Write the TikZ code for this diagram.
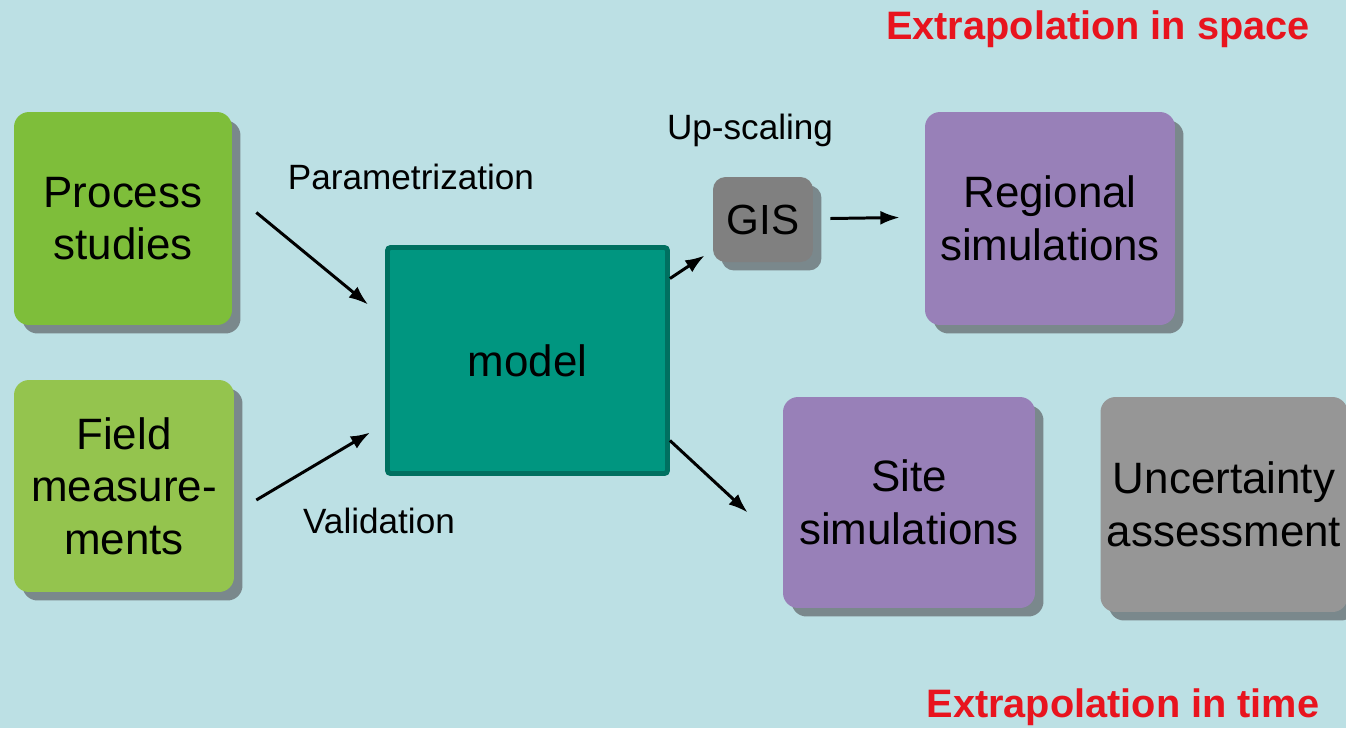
\documentclass[tikz,border=0pt]{standalone}
\usepackage{fontspec}
\setmainfont{Liberation Sans}
\usetikzlibrary{arrows.meta,shadows,calc}
\definecolor{bgc}{RGB}{188,224,228}
\definecolor{shadc}{RGB}{122,136,140}
\definecolor{greenA}{RGB}{126,190,58}
\definecolor{greenB}{RGB}{148,196,78}
\definecolor{tealA}{RGB}{0,150,128}
\definecolor{tealB}{RGB}{0,112,96}
\definecolor{purp}{RGB}{152,128,184}
\definecolor{grayA}{RGB}{128,128,128}
\definecolor{grayB}{RGB}{150,150,150}
\definecolor{redt}{RGB}{232,20,30}
\tikzset{
  box/.style={rounded corners=0.3cm, align=center, inner sep=0pt,
    font=\fontsize{25}{30}\selectfont,
    drop shadow={shadow xshift=0.17cm, shadow yshift=-0.17cm, opacity=1, fill=shadc}},
  lbl/.style={font=\fontsize{20}{24}\selectfont, inner sep=0pt},
  ttl/.style={font=\fontsize{22.6}{26}\selectfont\bfseries, text=redt, inner sep=0pt},
  arr/.style={line width=1.7pt, -{Latex[length=11pt,width=8pt]}}
}
\begin{document}
\begin{tikzpicture}[x=0.02cm,y=-0.02cm]
\fill[bgc] (0,0) rectangle (1346,728);
\useasboundingbox (0,0) rectangle (1346,728);

\node[box, fill=greenA, minimum width=4.36cm, minimum height=4.26cm] (ps) at (123,218.5) {Process\\studies};
\node[box, fill=greenB, minimum width=4.4cm, minimum height=4.24cm] (fm) at (124,486) {Field\\measure-\\ments};
\node[draw=tealB, line width=2.8pt, fill=tealA, rounded corners=0.06cm, minimum width=5.6cm, minimum height=4.52cm, inner sep=0pt, font=\fontsize{25}{30}\selectfont] (model) at (527.5,360.5) {model};
\node[box, fill=grayA, rounded corners=0.25cm, minimum width=2.0cm, minimum height=1.7cm, font=\fontsize{24}{30}\selectfont] (gis) at (763,219.5) {GIS};
\node[box, fill=purp, minimum width=5.0cm, minimum height=4.26cm] (reg) at (1050,218.5) {Regional\\simulations};
\node[box, fill=purp, minimum width=5.04cm, minimum height=4.22cm] (site) at (909,502.5) {Site\\simulations};
\node[box, fill=grayB, minimum width=4.94cm, minimum height=4.3cm] (unc) at (1224,504.5) {Uncertainty\\assessment};

\node[lbl] (lpar) at (411,177) {Parametrization};
\node[lbl] (lup) at (750,130) {Up-scaling};
\node[lbl] (lval) at (379,521) {Validation};
\node[ttl] (tsp) at (1098,29) {Extrapolation in space};
\node[ttl] (ttm) at (1123,707) {Extrapolation in time};

\draw[arr] ($(ps.east)+(24,-6)$) -- ($(model.west)+(-17,-56)$);
\draw[arr] ($(fm.east)+(22,14)$) -- ($(model.west)+(-15,72)$);
\draw[arr] ($(model.east)+(0,-82)$) -- ($(gis.west)+(-8,36)$);
\draw[arr] ($(gis.east)+(17,-1)$) -- ($(reg.west)+(-25,-1)$);
\draw[arr] ($(model.east)+(0,80)$) -- ($(site.west)+(-35,10)$);
\end{tikzpicture}
\end{document}
